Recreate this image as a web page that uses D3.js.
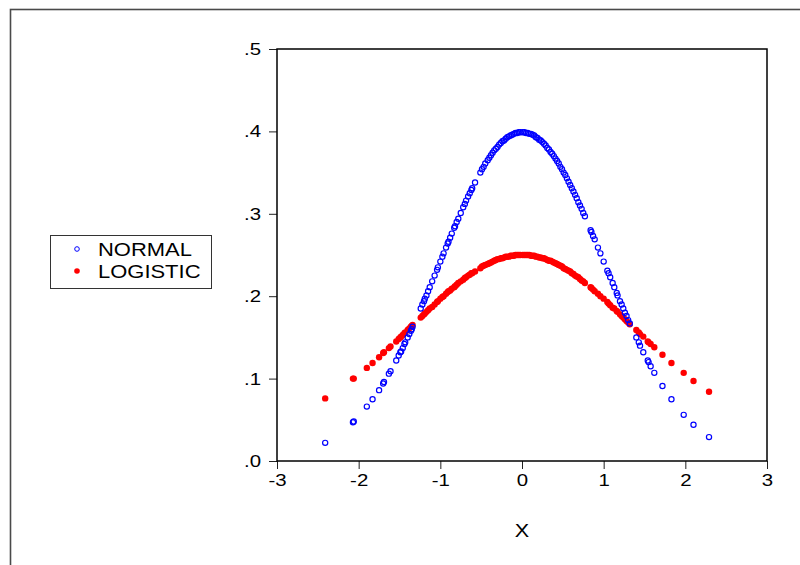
<!DOCTYPE html>
<html>
<head>
<meta charset="utf-8">
<script src="https://cdn.jsdelivr.net/npm/d3@7"></script>
<style>
    body { margin: 0; background: #fff; }
    svg { display: block; font-family: "Liberation Sans", Arial, sans-serif; }
</style>
</head>
<body>
<div id="chart"></div>
<script>
// x values of the sample
var xValues = [
    -2.41, -2.07, -2.06, -1.90, -1.83, -1.75, -1.70, -1.69, -1.63, -1.61, -1.54, -1.51, -1.49, -1.48, -1.46, -1.44, -1.43, -1.40, -1.38, -1.36, -1.35, -1.34,
    -1.24, -1.22, -1.20, -1.19, -1.17, -1.15, -1.13, -1.10, -1.07, -1.04, -1.03, -1.00, -0.975, -0.96, -0.93, -0.91, -0.90, -0.88, -0.86, -0.83, -0.82, -0.80, -0.78, -0.75, -0.72, -0.70, -0.685, -0.66, -0.64, -0.62, -0.61, -0.575,
    -0.51, -0.49, -0.47, -0.45, -0.42, -0.40, -0.38, -0.36, -0.34, -0.32, -0.30, -0.28, -0.26, -0.24, -0.22, -0.20, -0.18, -0.16, -0.14, -0.12, -0.10, -0.08, -0.06, -0.04, -0.02,
    0.01, 0.03, 0.05, 0.07, 0.09, 0.11, 0.13, 0.15, 0.17, 0.19, 0.21, 0.23, 0.25, 0.27, 0.29, 0.31, 0.33, 0.35, 0.37, 0.39, 0.41, 0.43, 0.45, 0.47, 0.49, 0.51, 0.53, 0.55, 0.57, 0.59, 0.61, 0.63, 0.65, 0.67, 0.69, 0.71, 0.73, 0.75, 0.77,
    0.84, 0.85, 0.87, 0.89, 0.93, 0.96, 1.00, 1.045, 1.06, 1.08, 1.11, 1.13, 1.16, 1.17, 1.20, 1.22, 1.24, 1.26, 1.28, 1.30, 1.32,
    1.40, 1.43, 1.445, 1.485, 1.54, 1.55, 1.575, 1.62, 1.72, 1.83, 1.98, 2.10, 2.29
];

var normalValues = [
    .022, .047, .048, .066, .075, .086, .094, .096, .106, .109, .122, .128, .132, .133, .137, .142, .144, .150, .154, .158, .160, .163,
    .185, .190, .194, .197, .201, .206, .211, .218, .225, .232, .235, .242, .248, .252, .259, .264, .266, .271, .276, .283, .285, .290, .294, .301, .308, .312, .316, .321, .325, .329, .331, .338,
    .350, .354, .357, .361, .365, .368, .371, .374, .377, .379, .381, .384, .386, .388, .389, .391, .393, .394, .395, .396, .397, .398, .398, .399, .399,
    .399, .399, .398, .398, .397, .397, .396, .395, .393, .392, .390, .389, .387, .385, .383, .380, .378, .375, .373, .370, .367, .364, .361, .357, .354, .350, .347, .343, .339, .335, .331, .327, .323, .319, .314, .310, .306, .301, .297,
    .280, .278, .273, .269, .259, .252, .242, .231, .228, .223, .216, .211, .204, .201, .194, .190, .185, .180, .176, .171, .167,
    .150, .144, .140, .132, .122, .120, .115, .107, .091, .075, .056, .044, .029
];

var logisticValues = [
    .076, .100, .100, .113, .119, .126, .131, .132, .137, .139, .145, .148, .150, .151, .153, .155, .156, .159, .161, .163, .164, .165,
    .174, .176, .178, .179, .181, .183, .185, .187, .190, .193, .194, .197, .199, .200, .203, .205, .206, .207, .209, .211, .212, .214, .216, .218, .220, .222, .223, .225, .226, .228, .228, .230,
    .234, .236, .237, .238, .239, .240, .241, .242, .243, .244, .245, .245, .246, .246, .247, .248, .248, .248, .249, .249, .249, .250, .250, .250, .250,
    .250, .250, .250, .250, .250, .249, .249, .249, .248, .248, .247, .247, .246, .246, .245, .244, .243, .243, .242, .241, .240, .239, .238, .237, .236, .234, .233, .232, .231, .230, .228, .227, .225, .224, .223, .221, .219, .218, .216,
    .211, .210, .208, .206, .203, .200, .197, .193, .191, .189, .186, .185, .182, .181, .178, .176, .174, .172, .170, .168, .166,
    .159, .156, .154, .151, .145, .144, .142, .138, .129, .119, .107, .097, .084
];

var seriesNames = ['NORMAL', 'LOGISTIC'];
var xTicks = [-3, -2, -1, 0, 1, 2, 3];
var yTicks = [0, 0.1, 0.2, 0.3, 0.4, 0.5];
var yTickLabels = ['.0', '.1', '.2', '.3', '.4', '.5'];
var xTitle = 'X';

var width = 800, height = 565;
var plot = { left: 277, right: 767, top: 49, bottom: 461 };

// the source renders its text a bit wider than Arial
function widen(sel, factor) {
    sel.each(function() {
        var len = this.getComputedTextLength();
        d3.select(this)
            .attr('textLength', len * factor)
            .attr('lengthAdjust', 'spacingAndGlyphs');
    });
}

var svg = d3.select('#chart').append('svg')
    .attr('width', width)
    .attr('height', height);

// outer frame, runs off the right and bottom edge
svg.append('rect')
    .attr('x', 10.5).attr('y', 9.5)
    .attr('width', 820).attr('height', 600)
    .attr('fill', 'none')
    .attr('stroke', '#4a4a4a')
    .attr('stroke-width', 1.6);

var x = d3.scaleLinear().domain([-3, 3]).range([plot.left, plot.right]);
var y = d3.scaleLinear().domain([0, 0.5]).range([plot.bottom, plot.top]);

var yAxis = svg.append('g')
    .attr('transform', 'translate(' + plot.left + ',0)')
    .call(d3.axisLeft(y).tickValues(yTicks).tickSize(8).tickPadding(8)
        .tickFormat(function(d, i) { return yTickLabels[i]; }));

var xAxis = svg.append('g')
    .attr('transform', 'translate(0,' + plot.bottom + ')')
    .call(d3.axisBottom(x).tickValues(xTicks).tickSize(8).tickPadding(5)
        .tickFormat(function(d) { return String(d); }));

[xAxis, yAxis].forEach(function(g) {
    g.select('.domain').remove();
    g.selectAll('line').attr('stroke', '#222');
    g.selectAll('text')
        .attr('fill', '#000')
        .style('font-size', '17px')
        .style('font-family', '"Liberation Sans", Arial, sans-serif')
        .call(widen, 1.2);
});

svg.append('rect')
    .attr('x', plot.left).attr('y', plot.top)
    .attr('width', plot.right - plot.left)
    .attr('height', plot.bottom - plot.top)
    .attr('fill', 'none')
    .attr('stroke', '#000')
    .attr('stroke-width', 1.5);

svg.append('text')
    .attr('x', x(0)).attr('y', 537)
    .attr('text-anchor', 'middle')
    .style('font-size', '18px')
    .text(xTitle)
    .call(widen, 1.2);

// logistic first, the normal circles sit on top
svg.append('g').selectAll('circle')
    .data(xValues)
    .enter().append('circle')
    .attr('cx', function(d) { return x(d); })
    .attr('cy', function(d, i) { return y(logisticValues[i]); })
    .attr('r', 3.2)
    .attr('fill', '#ff0000');

svg.append('g').selectAll('circle')
    .data(xValues)
    .enter().append('circle')
    .attr('cx', function(d) { return x(d); })
    .attr('cy', function(d, i) { return y(normalValues[i]); })
    .attr('r', 2.6)
    .attr('fill', 'none')
    .attr('stroke', '#0000ff')
    .attr('stroke-width', 1.2);

// legend
var legend = svg.append('g');
legend.append('rect')
    .attr('x', 50.5).attr('y', 235.5)
    .attr('width', 161).attr('height', 53)
    .attr('fill', '#fff')
    .attr('stroke', '#333');

var rows = legend.selectAll('g.row')
    .data(seriesNames)
    .enter().append('g')
    .attr('class', 'row')
    .attr('transform', function(d, i) { return 'translate(0,' + (249 + i * 22) + ')'; });

rows.append('circle')
    .attr('cx', 77).attr('cy', 0)
    .attr('r', function(d, i) { return i === 0 ? 2.3 : 2.8; })
    .attr('fill', function(d, i) { return i === 0 ? 'none' : '#ff0000'; })
    .attr('stroke', function(d, i) { return i === 0 ? '#0000ff' : 'none'; })
    .attr('stroke-width', 1);

rows.append('text')
    .attr('x', 98).attr('y', 6.5)
    .style('font-size', '18px')
    .text(function(d) { return d; })
    .call(widen, 1.22);
</script>
</body>
</html>
